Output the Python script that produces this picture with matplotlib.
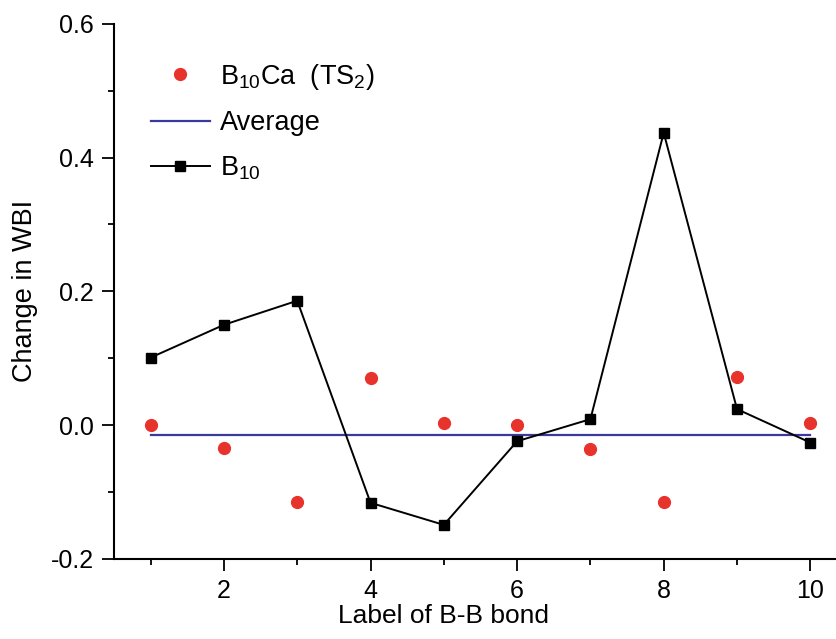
import matplotlib
matplotlib.use('Agg')
import matplotlib.pyplot as plt
import numpy as np

plt.rcParams['font.family'] = ['Liberation Sans', 'DejaVu Sans']
plt.rcParams['mathtext.default'] = 'regular'

bond = [1, 2, 3, 4, 5, 6, 7, 8, 9, 10]
b10 = [0.101, 0.150, 0.186, -0.116, -0.149, -0.024, 0.009, 0.437, 0.024, -0.026]
b10ca = [0.0, -0.034, -0.115, 0.071, 0.003, 0.0, -0.035, -0.115, 0.072, 0.003]
avg_x = [1, 10]
avg_y = [-0.015, -0.015]

fig = plt.figure(figsize=(8.37, 6.39), dpi=100)
ax = fig.add_axes([0.1362, 0.1252, 0.8757, 0.8377])

l_avg, = ax.plot(avg_x, avg_y, color='#3a3a9c', lw=1.6, label='Average', zorder=2)
l_b10, = ax.plot(bond, b10, color='black', lw=1.4, marker='s', ms=7.5,
                 label=r'B$_{10}$', zorder=3)
l_ca, = ax.plot(bond, b10ca, ls='none', marker='o', ms=8.5, color='#e8322c',
                label=r'B$_{10}$Ca  (TS$_2$)', zorder=4)

ax.set_xlim(0.5, 10.5)
ax.set_ylim(-0.2, 0.6)
ax.set_xticks([2, 4, 6, 8, 10])
ax.set_xticks([1, 3, 5, 7, 9], minor=True)
ax.set_yticks([-0.2, 0.0, 0.2, 0.4, 0.6])
ax.set_yticks([-0.1, 0.1, 0.3, 0.5], minor=True)
ax.yaxis.set_major_formatter(matplotlib.ticker.FormatStrFormatter('%.1f'))

for s in ['top', 'right']:
    ax.spines[s].set_visible(False)
for s in ['left', 'bottom']:
    ax.spines[s].set_linewidth(1.5)

ax.tick_params(which='major', direction='out', length=8.5, width=1.3, labelsize=18, pad=6)
ax.tick_params(which='minor', direction='out', length=4.5, width=1.3)

ax.set_xlabel('Label of B-B bond', fontsize=19)
ax.set_ylabel('Change in WBI', fontsize=19.5)
ax.xaxis.set_label_coords(0.45, -0.085)
ax.yaxis.set_label_coords(-0.104, 0.5)

ax.legend(handles=[l_ca, l_avg, l_b10], loc='upper left', bbox_to_anchor=(0.05, 0.929),
          frameon=False, fontsize=19.5, numpoints=1, handlelength=2.2,
          labelspacing=0.68, handletextpad=0.37, borderpad=0, borderaxespad=0)

plt.savefig('out.png', dpi=100)
